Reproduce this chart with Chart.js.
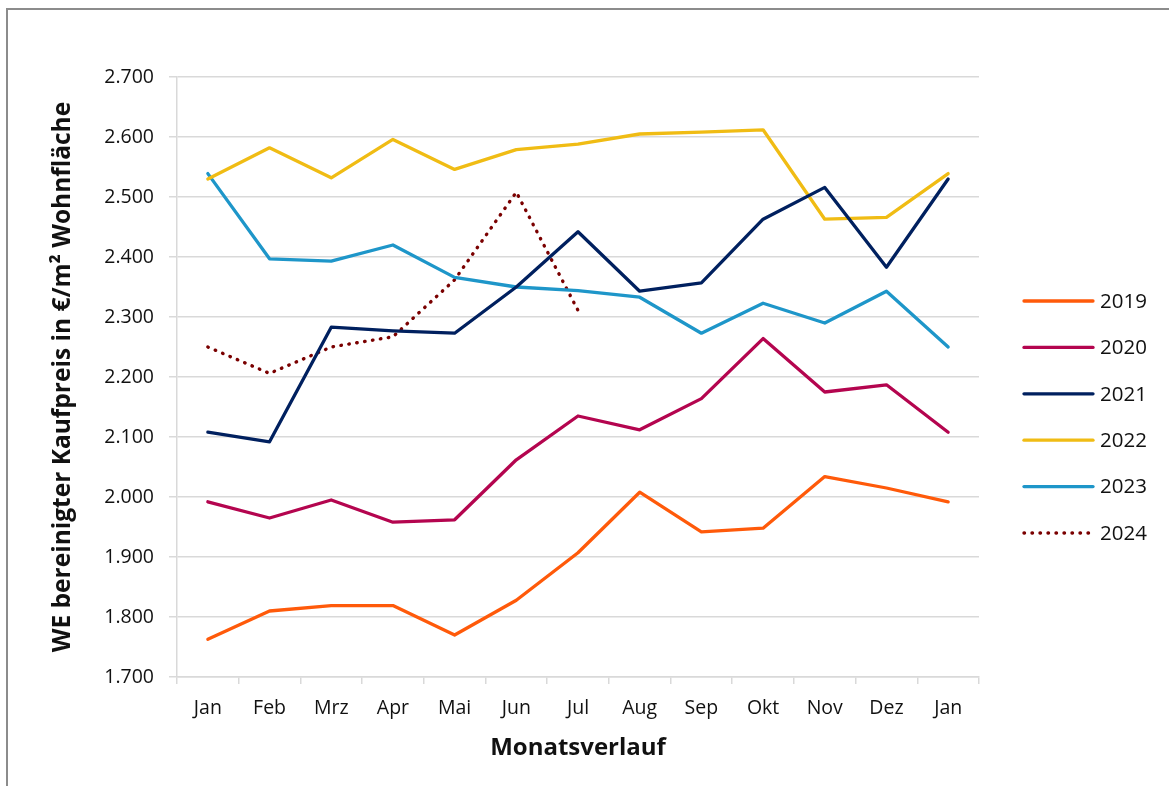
<!DOCTYPE html>
<html>
<head>
<meta charset="utf-8">
<script src="https://cdn.jsdelivr.net/npm/chart.js@4/dist/chart.umd.min.js"></script>
<style>
	html, body { margin: 0; padding: 0; background: #fff; overflow: hidden; }
	.frame { position: absolute; left: 6px; top: 8px; width: 1300px; height: 900px; border-left: 2px solid #8c8c8c; border-top: 2px solid #8c8c8c; }
	.wrap { position: absolute; left: 0; top: 0; width: 1169px; height: 786px; }
</style>
</head>
<body>
<div class="frame"></div>
<div class="wrap"><canvas id="chart-1"></canvas></div>
<script>
const months = ["Jan", "Feb", "Mrz", "Apr", "Mai", "Jun", "Jul", "Aug", "Sep", "Okt", "Nov", "Dez", "Jan"];
const years = ["2019", "2020", "2021", "2022", "2023", "2024"];

const values2019 = [1763, 1810, 1819, 1819, 1770, 1828, 1907, 2008, 1942, 1948, 2034, 2015, 1992];
const values2020 = [1992, 1965, 1995, 1958, 1962, 2062, 2135, 2112, 2164, 2264, 2175, 2187, 2108];
const values2021 = [2108, 2092, 2283, 2277, 2273, 2350, 2442, 2343, 2357, 2463, 2516, 2383, 2530];
const values2022 = [2530, 2582, 2532, 2596, 2546, 2579, 2588, 2605, 2608, 2612, 2463, 2466, 2539];
const values2023 = [2539, 2397, 2393, 2420, 2366, 2350, 2344, 2333, 2273, 2323, 2290, 2343, 2250];
const values2024 = [2250, 2206, 2250, 2267, 2362, 2508, 2311];

const yTicks = [1700, 1800, 1900, 2000, 2100, 2200, 2300, 2400, 2500, 2600, 2700];

const colors = ["#ff5a0a", "#b4054f", "#00205f", "#f0bc14", "#1e96c9", "#7a0000"];
const FONT = "'Open Sans', sans-serif";

function fmt(v) {
	return String(v).replace(/\B(?=(\d{3})+(?!\d))/g, ".");
}

function makeSet(i, data) {
	return {
		label: years[i],
		data: data,
		borderColor: colors[i],
		backgroundColor: colors[i],
		borderWidth: 3.3,
		borderCapStyle: "round",
		borderJoinStyle: "round",
		pointRadius: 0,
		tension: 0,
		fill: false,
	};
}

const datasets = [
	makeSet(0, values2019),
	makeSet(1, values2020),
	makeSet(2, values2021),
	makeSet(3, values2022),
	makeSet(4, values2023),
	makeSet(5, values2024),
];
datasets[5].borderDash = [0.5, 7.5];
datasets[5].borderWidth = 3.4;

// legend on the right, drawn from the datasets
const sideLegend = {
	id: "sideLegend",
	afterDraw(chart) {
		const ctx = chart.ctx;
		const area = chart.chartArea;
		const x0 = area.right + 45;
		const y0 = area.top + 224;
		chart.data.datasets.forEach((ds, i) => {
			const y = y0 + i * 46.4;
			ctx.save();
			ctx.strokeStyle = ds.borderColor;
			ctx.lineWidth = ds.borderWidth;
			ctx.lineCap = "round";
			ctx.setLineDash(ds.borderDash || []);
			ctx.beginPath();
			ctx.moveTo(x0, y);
			ctx.lineTo(x0 + 69, y);
			ctx.stroke();
			ctx.setLineDash([]);
			ctx.fillStyle = "#111";
			ctx.font = "20.5px " + FONT;
			ctx.textBaseline = "middle";
			ctx.textAlign = "left";
			ctx.fillText(ds.label, x0 + 76, y + 1);
			ctx.restore();
		});
	}
};

Chart.defaults.font.family = FONT;
Chart.defaults.color = "#111";

new Chart("chart-1", {
	type: "line",
	data: {
		labels: months,
		datasets: datasets,
	},
	options: {
		responsive: true,
		maintainAspectRatio: false,
		animation: false,
		layout: { padding: { top: 77, right: 190, left: 0, bottom: 0 } },
		plugins: {
			legend: { display: false },
			tooltip: { enabled: false },
		},
		scales: {
			x: {
				offset: true,
				grid: {
					offset: true,
					drawOnChartArea: false,
					drawTicks: true,
					tickLength: 7,
					color: "#d9d9d9",
					lineWidth: 1.5,
				},
				border: { color: "#d9d9d9", width: 1.5 },
				ticks: { font: { size: 19.5 }, padding: 13, maxRotation: 0, autoSkip: false },
				title: {
					display: true,
					text: "Monatsverlauf",
					font: { size: 24, weight: "bold" },
					padding: { top: 0, bottom: 23 },
				},
				afterFit(scale) { scale.height = 109; },
			},
			y: {
				min: 1700,
				max: 2700,
				afterBuildTicks(scale) { scale.ticks = yTicks.map(v => ({ value: v })); },
				grid: { color: "#d9d9d9", lineWidth: 1.5, tickLength: 8 },
				border: { color: "#d9d9d9", width: 1.5 },
				ticks: { font: { size: 19.5 }, padding: 15, callback: v => fmt(v) },
				title: {
					display: true,
					text: "WE bereinigter Kaufpreis in €/m² Wohnfläche",
					font: { size: 24.5, weight: "bold" },
					padding: { top: 48, bottom: 0 },
				},
				afterFit(scale) { scale.width = 177; },
			},
		},
	},
	plugins: [sideLegend],
});
</script>
</body>
</html>
